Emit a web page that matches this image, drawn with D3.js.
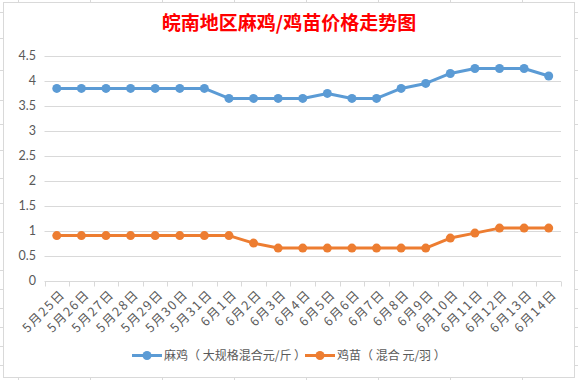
<!DOCTYPE html>
<html><head><meta charset="utf-8">
<script src="https://d3js.org/d3.v7.min.js"></script>
<style>
html,body{margin:0;padding:0;background:#fff;}
svg{display:block;}
</style></head>
<body>
<script>
const categories = ["5月25日","5月26日","5月27日","5月28日","5月29日","5月30日","5月31日",
  "6月1日","6月2日","6月3日","6月4日","6月5日","6月6日","6月7日","6月8日","6月9日",
  "6月10日","6月11日","6月12日","6月13日","6月14日"];
const majiValues = [3.85,3.85,3.85,3.85,3.85,3.85,3.85,
  3.65,3.65,3.65,3.65,3.75,3.65,3.65,3.85,3.95,4.15,4.25,4.25,4.25,4.1];
const jimiaoValues = [0.9,0.9,0.9,0.9,0.9,0.9,0.9,
  0.9,0.75,0.65,0.65,0.65,0.65,0.65,0.65,0.65,0.85,0.95,1.05,1.05,1.05];
const yTicks = [0,0.5,1,1.5,2,2.5,3,3.5,4,4.5];
const seriesNames = ["麻鸡（ 大规格混合元/斤 ）","鸡苗（ 混合 元/羽 ）"];
const title = "皖南地区麻鸡/鸡苗价格走势图";

const W = 578, H = 380;
const colors = ["#5B9BD5","#ED7D31"];
const svg = d3.select("body").append("svg").attr("width",W).attr("height",H);

// spreadsheet background lines outside the chart frame
const bg = svg.append("g").attr("stroke","#d9d9d9").attr("stroke-width",1);
[18,90,162,234,306,378,450,522].forEach(x=>{
  bg.append("line").attr("x1",x+0.5).attr("x2",x+0.5).attr("y1",0).attr("y2",2);
  bg.append("line").attr("x1",x+0.5).attr("x2",x+0.5).attr("y1",378).attr("y2",380);
});
[12,38,70,100,124,150,178,203,232,270,289,308,327,346,365].forEach(y=>{
  bg.append("line").attr("x1",0).attr("x2",3).attr("y1",y+0.5).attr("y2",y+0.5);
  bg.append("line").attr("x1",575).attr("x2",578).attr("y1",y+0.5).attr("y2",y+0.5);
});
// chart frame
svg.append("rect").attr("x",3.5).attr("y",2.5).attr("width",571).attr("height",375)
  .attr("fill","#fff").attr("stroke","#d9d9d9");

// title
svg.append("text").attr("x",289).attr("y",30).attr("text-anchor","middle")
  .attr("font-family","'Noto Sans CJK SC'").attr("font-weight","bold")
  .attr("font-size",19).attr("fill","#FF0000").text(title);

const x = d3.scaleBand().domain(categories).range([44.5,561]);
const y = d3.scaleLinear().domain([0,4.5]).range([280.5,56]);

// gridlines
svg.append("g").selectAll("line").data(yTicks.filter(d=>d>0)).join("line")
  .attr("x1",44.5).attr("x2",561).attr("y1",d=>Math.round(y(d))+0.5).attr("y2",d=>Math.round(y(d))+0.5)
  .attr("stroke","#d9d9d9");

// y axis labels
svg.append("g").selectAll("text").data(yTicks).join("text")
  .attr("x",36).attr("y",d=>y(d)).attr("dy","0.35em").attr("text-anchor","end")
  .attr("font-family","Lato, 'Liberation Sans'").attr("font-size",12.5).attr("fill","#595959")
  .text(d=>d);

// x axis
const gx = svg.append("g").attr("transform",`translate(0,${Math.round(y(0))+0.5})`);
gx.append("line").attr("x1",44.5).attr("x2",561).attr("stroke","#d9d9d9");
const bounds = categories.map(c=>x(c)).concat([x.range()[1]]);
gx.selectAll("line.tk").data(bounds).join("line").attr("class","tk")
  .attr("x1",d=>Math.round(d)+0.5).attr("x2",d=>Math.round(d)+0.5).attr("y1",0).attr("y2",5)
  .attr("stroke","#d9d9d9");

svg.append("g").selectAll("text").data(categories).join("text")
  .attr("transform",d=>`translate(${x(d)+x.bandwidth()/2+6},${292}) rotate(-45)`)
  .attr("text-anchor","end").attr("dy","0.35em")
  .attr("font-family","'Noto Sans CJK SC'").attr("font-size",12.5).attr("letter-spacing",1.6)
  .attr("fill","#595959")
  .text(d=>d);

// series
const series = [majiValues, jimiaoValues];
const line = d3.line().x((d,i)=>x(categories[i])+x.bandwidth()/2).y(d=>y(d));
series.forEach((vals,k)=>{
  const g = svg.append("g");
  g.append("path").datum(vals).attr("d",line).attr("fill","none")
    .attr("stroke",colors[k]).attr("stroke-width",3).attr("stroke-linejoin","round");
  g.selectAll("circle").data(vals).join("circle")
    .attr("cx",(d,i)=>x(categories[i])+x.bandwidth()/2).attr("cy",d=>y(d))
    .attr("r",4.5).attr("fill",colors[k]);
});

// legend
const legX = [132,305];
seriesNames.forEach((name,k)=>{
  const g = svg.append("g").attr("transform",`translate(${legX[k]},355.5)`);
  g.append("line").attr("x1",0).attr("x2",30).attr("stroke",colors[k]).attr("stroke-width",3);
  g.append("circle").attr("cx",15).attr("r",4.5).attr("fill",colors[k]);
  g.append("text").attr("x",32).attr("dy","0.35em")
    .attr("font-family","'Noto Sans CJK SC'").attr("font-size",12).attr("fill","#595959").text(name);
});
</script>
</body></html>
